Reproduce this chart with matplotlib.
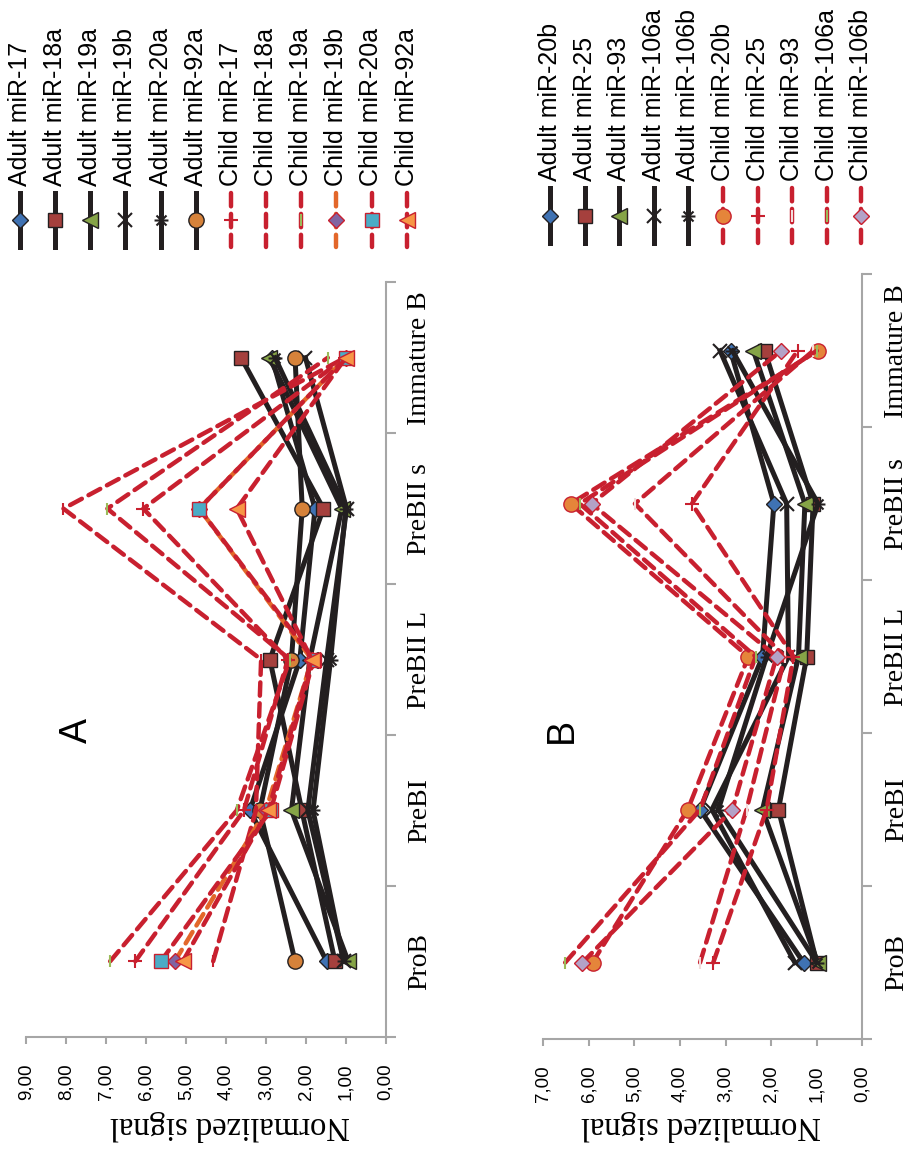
import numpy as np
import matplotlib.pyplot as plt
from matplotlib.path import Path

plt.rcParams['font.family'] = ['Liberation Sans', 'DejaVu Sans']

categories = ['ProB', 'PreBI', 'PreBII L', 'PreBII s', 'Immature B']

# panel A, values per category (ProB -> Immature B)
a_adult_17 = [1.48, 3.40, 2.15, 1.77, 2.85]
a_adult_18a = [1.27, 2.10, 2.90, 1.56, 3.62]
a_adult_19a = [0.94, 2.36, 1.90, 1.10, 2.91]
a_adult_19b = [1.05, 1.95, 1.48, 0.98, 2.01]
a_adult_20a = [1.05, 1.82, 1.38, 1.00, 2.77]
a_adult_92a = [2.27, 3.15, 2.36, 2.09, 2.27]
a_child_17 = [6.27, 3.55, 2.45, 6.07, 1.02]
a_child_18a = [4.32, 3.25, 3.12, 8.07, 1.02]
a_child_19a = [6.90, 3.73, 2.40, 6.97, 1.45]
a_child_19b = [5.28, 3.00, 1.85, 4.67, 1.00]
a_child_20a = [5.63, 2.88, 1.80, 4.67, 1.00]
a_child_92a = [5.08, 2.94, 1.85, 3.73, 1.00]
a_names = ['Adult miR-17', 'Adult miR-18a', 'Adult miR-19a', 'Adult miR-19b',
           'Adult miR-20a', 'Adult miR-92a', 'Child miR-17', 'Child miR-18a',
           'Child miR-19a', 'Child miR-19b', 'Child miR-20a', 'Child miR-92a']
a_series = [a_adult_17, a_adult_18a, a_adult_19a, a_adult_19b, a_adult_20a, a_adult_92a,
            a_child_17, a_child_18a, a_child_19a, a_child_19b, a_child_20a, a_child_92a]
a_max = 9

# panel B
b_adult_20b = [1.29, 3.56, 2.19, 1.94, 2.89]
b_adult_25 = [1.00, 1.84, 1.22, 1.08, 2.14]
b_adult_93 = [0.98, 2.19, 1.40, 1.26, 2.39]
b_adult_106a = [1.48, 3.30, 1.62, 1.66, 3.12]
b_adult_106b = [1.00, 3.16, 2.10, 0.97, 2.85]
b_child_20b = [5.92, 3.83, 2.50, 6.40, 0.98]
b_child_25 = [3.27, 2.10, 1.51, 3.74, 1.42]
b_child_93 = [3.56, 2.54, 1.70, 4.99, 1.08]
b_child_106a = [6.52, 3.56, 2.34, 6.20, 1.00]
b_child_106b = [6.14, 2.85, 1.88, 5.94, 1.78]
b_names = ['Adult miR-20b', 'Adult miR-25', 'Adult miR-93', 'Adult miR-106a',
           'Adult miR-106b', 'Child miR-20b', 'Child miR-25', 'Child miR-93',
           'Child miR-106a', 'Child miR-106b']
b_series = [b_adult_20b, b_adult_25, b_adult_93, b_adult_106a, b_adult_106b,
            b_child_20b, b_child_25, b_child_93, b_child_106a, b_child_106b]
b_max = 7

# styles
BLACK = '#231f20'
RED = '#c8202f'
adult = dict(color=BLACK, lw=3.6, ls='-')
child = dict(color=RED, lw=3.2, ls=(0, (3, 1.7)))
asterisk = Path([(-1, 0), (1, 0), (-.72, -.72), (.72, .72), (-.72, .72), (.72, -.72)],
                [1, 2, 1, 2, 1, 2])

diamond = dict(marker='D', ms=8.5, mfc='#3f72b3', mec=BLACK, mew=1)
square = dict(marker='s', ms=10.5, mfc='#a5403d', mec=BLACK, mew=1)
triangle = dict(marker='<', ms=11, mfc='#86a447', mec=BLACK, mew=1)
cross = dict(marker='x', ms=10, mec=BLACK, mew=1.5)
star = dict(marker=asterisk, ms=10, mec=BLACK, mew=1.5)
circle = dict(marker='o', ms=11, mfc='#d6823a', mec=BLACK, mew=1)
plus = dict(marker='+', ms=10, mec=RED, mew=1.5)
tick_red = dict(marker='|', ms=8, mec=RED, mew=1.5)
tick_green = dict(marker='|', ms=8, mec='#9bbb59', mew=1.5)
tick_pale = dict(marker='|', ms=8, mec='#f2dcdb', mew=1.5)
c_diamond = dict(marker='D', ms=8.5, mfc='#8064a2', mec=RED, mew=1)
c_square = dict(marker='s', ms=10.5, mfc='#4bacc6', mec=RED, mew=1)
c_triangle = dict(marker='<', ms=11, mfc='#f79646', mec=RED, mew=1)
c_circle = dict(marker='o', ms=11, mfc='#e5853a', mec=RED, mew=1)
c_lilac = dict(marker='D', ms=8.5, mfc='#b3a2c7', mec=RED, mew=1)

a_styles = [{**adult, **diamond}, {**adult, **square}, {**adult, **triangle},
            {**adult, **cross}, {**adult, **star}, {**adult, **circle},
            {**child, **plus}, {**child, **tick_red}, {**child, **tick_green},
            {**child, **c_diamond, 'color': '#e3672a'}, {**child, **c_square},
            {**child, **c_triangle}]
b_styles = [{**adult, **diamond}, {**adult, **square}, {**adult, **triangle},
            {**adult, **cross}, {**adult, **star},
            {**child, **c_circle}, {**child, **plus}, {**child, **tick_pale},
            {**child, **tick_green}, {**child, **c_lilac}]

GREY = '#a6a6a6'


def panel(ax, series, styles, xmax):
    pos = np.arange(len(categories))
    for vals, st in zip(series, styles):
        ax.plot(vals, pos, dash_capstyle='round', solid_joinstyle='round', **st)
    ax.set_xlim(xmax, 0)
    ax.set_ylim(-0.5, len(categories) - 0.5)
    for s in ['top', 'left']:
        ax.spines[s].set_visible(False)
    for s in ['bottom', 'right']:
        ax.spines[s].set_color(GREY)
        ax.spines[s].set_linewidth(1.5)
    ticks = np.arange(xmax + 1)
    ax.set_xticks(ticks)
    ax.set_xticklabels([f'{v:.2f}'.replace('.', ',') for v in ticks], rotation=90, fontsize=13.5)
    ax.tick_params(axis='x', direction='out', length=5, width=1.5, color=GREY, pad=14)
    ax.yaxis.tick_right()
    ax.set_yticks(pos)
    ax.set_yticklabels(categories, rotation=90, va='center', fontsize=20,
                       family='Liberation Serif')
    ax.tick_params(axis='y', which='major', length=0, pad=15.5)
    ax.set_yticks(np.arange(-0.5, len(categories), 1), minor=True)
    ax.tick_params(axis='y', which='minor', direction='out', length=7, width=1.5, color=GREY)
    ax.patch.set_alpha(0)


def legend(ax, names, styles, x0, step, y_top, y_bot):
    for i, (name, st) in enumerate(zip(names, styles)):
        x = x0 + i * step
        ax.plot([x, x, x], [y_top, (y_top + y_bot) / 2, y_bot], markevery=[1],
                dash_capstyle='round', **st)
        ax.text(x, y_top - 7, name, rotation=90, ha='center', va='bottom', fontsize=18)


fig = plt.figure(figsize=(9.09, 11.51), dpi=100)

over = fig.add_axes([0, 0, 1, 1])
over.set_xlim(0, 909)
over.set_ylim(1151, 0)
over.axis('off')

ax_a = fig.add_axes([26.3 / 909, 1 - 1036.7 / 1151, 359.4 / 909, 754.4 / 1151])
panel(ax_a, a_series, a_styles, a_max)
ax_b = fig.add_axes([543.3 / 909, 1 - 1039 / 1151, 319 / 909, 764.7 / 1151])
panel(ax_b, b_series, b_styles, b_max)

legend(over, a_names, a_styles, 20, 35.15, 193, 247)
legend(over, b_names, b_styles, 550, 34.6, 188, 243)

over.text(77, 730, 'A', rotation=90, ha='center', va='center', fontsize=27)
over.text(562, 730, 'B', rotation=90, ha='center', va='center', fontsize=27)
over.text(230, 1125, 'Normalized signal', rotation=180, ha='center', va='center',
          fontsize=23.5, family='Liberation Serif')
over.text(701, 1125, 'Normalized signal', rotation=180, ha='center', va='center',
          fontsize=23.5, family='Liberation Serif')

fig.savefig('out.png', dpi=100)
